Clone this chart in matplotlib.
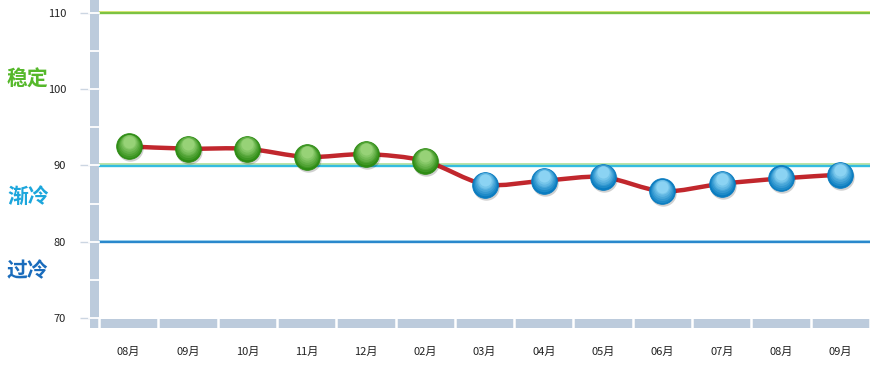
import numpy as np
import matplotlib
matplotlib.use('Agg')
import matplotlib.pyplot as plt
from matplotlib.path import Path
from matplotlib.patches import PathPatch, Rectangle
from matplotlib import transforms

plt.rcParams['font.family'] = ['Noto Sans CJK SC', 'DejaVu Sans']

# data
months = ['08月', '09月', '10月', '11月', '12月', '02月', '03月',
          '04月', '05月', '06月', '07月', '08月', '09月']
values = [92.5, 92.2, 92.2, 91.1, 91.5, 90.6, 87.5, 88.0, 88.5, 86.6, 87.6, 88.3, 88.8]
y_ticks = [70, 80, 90, 100, 110]
zone_names = ['稳定', '渐冷', '过冷']
zone_levels = [110, 90, 80]

# styles
zone_colors = ['#55b82a', '#1ca6dc', '#1a6cbc']
zone_text_y = [101.3, 86.0, 76.2]
line_styles = [('#e2e85a', '#7cc242'), ('#a8dc90', '#33bde0'), ('#9ad4f0', '#2a88cc')]
bar_col = '#bccbdc'

fig = plt.figure(figsize=(8.81, 3.70), dpi=100)
W, H = 771, 318
ax = fig.add_axes([99 / 881, 52 / 370, W / 881, H / 370])
ax.set_xlim(-0.5, len(months) - 0.5)
ax.set_ylim(70, 111.7)
for s in ax.spines.values():
    s.set_visible(False)

# ticks
ax.set_xticks(range(len(months)))
ax.set_xticklabels(months, fontsize=8, color='#222222')
ax.tick_params(axis='x', length=0, pad=21)
ax.set_yticks(y_ticks)
ax.set_yticklabels([str(t) for t in y_ticks], fontsize=8, color='#222222')
ax.tick_params(axis='y', length=13.7, width=1, color='#ccd6e2', pad=10)

# axis bars
ty = transforms.blended_transform_factory(ax.transAxes, ax.transData)
tx = transforms.blended_transform_factory(ax.transData, ax.transAxes)
ax.add_patch(Rectangle((-9 / W, -10 / H), 9 / W, 1 + 10 / H, transform=ax.transAxes,
                       color=bar_col, clip_on=False, zorder=3, lw=0))
ax.add_patch(Rectangle((-0.5, -10 / H), len(months), 9 / H, transform=tx,
                       color=bar_col, clip_on=False, zorder=3, lw=0))
for v in range(70, 112, 5):
    ax.plot([-10 / W, 0], [v, v], transform=ty, color='white', lw=1.3,
            clip_on=False, zorder=4)
for k in range(len(months) + 1):
    ax.plot([k - 0.5, k - 0.5], [-11 / H, 0], transform=tx, color='white', lw=1.8,
            clip_on=False, zorder=4)

# zone lines and labels
px = 41.7 / H
tf = transforms.blended_transform_factory(fig.transFigure, ax.transData)
for lvl, (c1, c2), name, col, yt in zip(zone_levels, line_styles, zone_names, zone_colors, zone_text_y):
    ax.axhline(lvl + px, color=c1, lw=1.1, zorder=2)
    ax.axhline(lvl - 0.3 * px, color=c2, lw=1.7, zorder=2)
    fig.text(7 / 881, yt, name, transform=tf, fontsize=15, fontweight='bold',
             color=col, va='center', ha='left')

# smooth red line
x = np.arange(len(values), dtype=float)
y = np.array(values)
pts = np.column_stack([x, y])
verts = [pts[0]]
codes = [Path.MOVETO]
for i in range(len(pts) - 1):
    p0 = pts[max(i - 1, 0)]
    p1 = pts[i]
    p2 = pts[i + 1]
    p3 = pts[min(i + 2, len(pts) - 1)]
    c1 = p1 + (p2 - p0) / 6 * 0.8
    c2 = p2 - (p3 - p1) / 6 * 0.8
    verts += [c1, c2, p2]
    codes += [Path.CURVE4] * 3
ax.add_patch(PathPatch(Path(verts, codes), fill=False, edgecolor='#c1272d', lw=3.2,
                       capstyle='round', joinstyle='round', zorder=5))

# balls
def ball(xs, ys, dark, light):
    ms = 18.5
    sh = transforms.offset_copy(ax.transData, fig=fig, x=1, y=-2, units='dots')
    ax.plot(xs, ys, 'o', ms=ms + 0.5, color='#000000', alpha=0.18, mew=0,
            transform=sh, zorder=6)
    ax.plot(xs, ys, 'o', ms=ms, color=dark, mec=dark, mew=0.6, zorder=7)
    dc = np.array(matplotlib.colors.to_rgb(dark))
    lc = np.array(matplotlib.colors.to_rgb(light))
    n = 7
    for j in range(1, n):
        f = j / n
        off = transforms.offset_copy(ax.transData, fig=fig, x=0, y=5.5 * f, units='dots')
        ax.plot(xs, ys, 'o', ms=ms * (1 - 0.62 * f), color=dc + (lc - dc) * f,
                mew=0, transform=off, zorder=7 + j * 0.1)

g = [i for i, v in enumerate(values) if v >= 90]
b = [i for i, v in enumerate(values) if v < 90]
ball(g, [values[i] for i in g], '#2e8c14', '#a8de88')
ball(b, [values[i] for i in b], '#0a7cc0', '#a0e2fb')

fig.savefig('out.png', dpi=100)
